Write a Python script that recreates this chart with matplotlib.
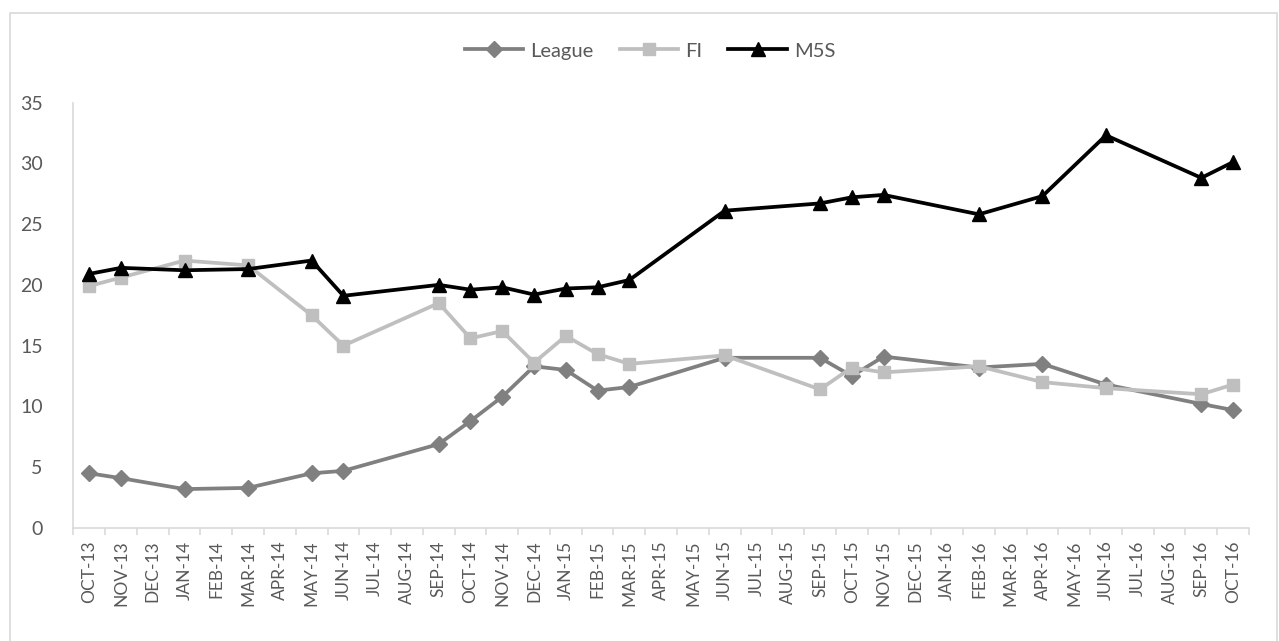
import matplotlib
matplotlib.use("Agg")
import matplotlib.pyplot as plt
from matplotlib.patches import Rectangle
from matplotlib.ticker import FixedLocator, NullFormatter, FixedFormatter

plt.rcParams['font.family'] = ['Lato', 'DejaVu Sans']

# Axis categories (monthly date axis)
axis_months = ['OCT-13', 'NOV-13', 'DEC-13',
               'JAN-14', 'FEB-14', 'MAR-14', 'APR-14', 'MAY-14', 'JUN-14',
               'JUL-14', 'AUG-14', 'SEP-14', 'OCT-14', 'NOV-14', 'DEC-14',
               'JAN-15', 'FEB-15', 'MAR-15', 'APR-15', 'MAY-15', 'JUN-15',
               'JUL-15', 'AUG-15', 'SEP-15', 'OCT-15', 'NOV-15', 'DEC-15',
               'JAN-16', 'FEB-16', 'MAR-16', 'APR-16', 'MAY-16', 'JUN-16',
               'JUL-16', 'AUG-16', 'SEP-16', 'OCT-16']

# Months with poll observations
poll_months = ['OCT-13', 'NOV-13', 'JAN-14', 'MAR-14', 'MAY-14', 'JUN-14',
               'SEP-14', 'OCT-14', 'NOV-14', 'DEC-14', 'JAN-15', 'FEB-15',
               'MAR-15', 'JUN-15', 'SEP-15', 'OCT-15', 'NOV-15', 'FEB-16',
               'APR-16', 'JUN-16', 'SEP-16', 'OCT-16']

league = [4.5, 4.1, 3.2, 3.3, 4.5, 4.7, 6.9, 8.8, 10.8, 13.3, 13.0, 11.3,
          11.6, 14.0, 14.0, 12.5, 14.1, 13.2, 13.5, 11.8, 10.2, 9.7]
fi = [19.9, 20.6, 22.0, 21.6, 17.5, 15.0, 18.5, 15.6, 16.2, 13.6, 15.8, 14.3,
      13.5, 14.2, 11.4, 13.2, 12.8, 13.3, 12.0, 11.5, 11.0, 11.8]
m5s = [20.9, 21.4, 21.2, 21.3, 22.0, 19.1, 20.0, 19.6, 19.8, 19.2, 19.7, 19.8,
       20.4, 26.1, 26.7, 27.2, 27.4, 25.8, 27.3, 32.3, 28.8, 30.1]

y_ticks = [0, 5, 10, 15, 20, 25, 30, 35]

TEXT = '#595959'
GRID = '#D9D9D9'

fig = plt.figure(figsize=(12.79, 6.41), dpi=100)
ax = fig.add_axes([73.3 / 1279, 1 - 528 / 641, (1249 - 73.3) / 1279, (528 - 102.5) / 641])

xpos = [axis_months.index(m) + 0.5 for m in poll_months]

ax.plot(xpos, league, color='#808080', lw=2.7, marker='D', ms=8.5,
        label='League', zorder=3)
ax.plot(xpos, fi, color='#BFBFBF', lw=2.7, marker='s', ms=9,
        label='FI', zorder=4)
ax.plot(xpos, m5s, color='#000000', lw=2.7, marker='^', ms=10.5,
        label='M5S', zorder=5)

ax.set_xlim(0, len(axis_months))
ax.set_ylim(0, 35)

ax.xaxis.set_major_locator(FixedLocator([i + 0.5 for i in range(len(axis_months))]))
ax.xaxis.set_major_formatter(FixedFormatter(axis_months))
ax.xaxis.set_minor_locator(FixedLocator(list(range(len(axis_months) + 1))))
ax.xaxis.set_minor_formatter(NullFormatter())
ax.tick_params(axis='x', which='major', length=0, pad=9, labelsize=12.5,
               labelcolor=TEXT, labelrotation=90)
ax.tick_params(axis='x', which='minor', length=5, width=1.2, color=GRID,
               direction='out')

ax.set_yticks(y_ticks)
ax.tick_params(axis='y', length=0, pad=22, labelsize=14, labelcolor=TEXT)
for lbl in ax.get_yticklabels():
    lbl.set_horizontalalignment('right')

for s in ['top', 'right']:
    ax.spines[s].set_visible(False)
for s in ['left', 'bottom']:
    ax.spines[s].set_color(GRID)
    ax.spines[s].set_linewidth(1.2)

leg = fig.legend(loc='center', bbox_to_anchor=(650 / 1279, 1 - 51 / 641),
                 ncol=3, frameon=False, fontsize=14.5, numpoints=1,
                 handlelength=2.9, handletextpad=0.35, columnspacing=1.3,
                 labelcolor=TEXT)

# chart area border
fig.patches.append(Rectangle((10 / 1279, -0.02), (1277 - 10) / 1279,
                             1 - 12.5 / 641 + 0.02, transform=fig.transFigure,
                             fill=False, edgecolor=GRID, lw=1.2))

fig.savefig('out.png', dpi=100)
